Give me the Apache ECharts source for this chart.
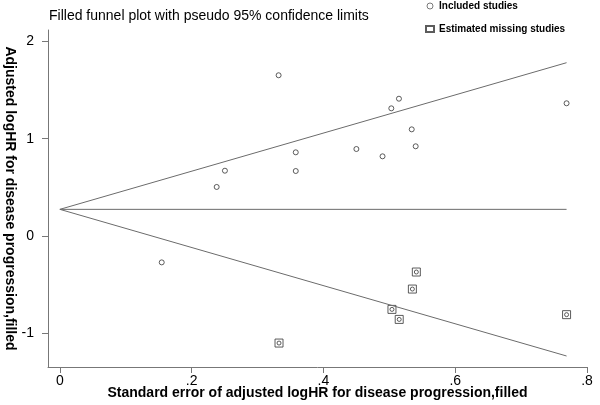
<!DOCTYPE html>
<html>
<head>
<meta charset="utf-8">
<script src="https://cdn.jsdelivr.net/npm/echarts@6/dist/echarts.min.js"></script>
<style>
  html, body { margin: 0; padding: 0; background: #fff; }
  #main { width: 600px; height: 405px; }
</style>
</head>
<body>
<div id="main"></div>
<script>
// included studies (se, logHR)
let includedSE = [0.332, 0.2505, 0.238, 0.358, 0.358, 0.5146, 0.503, 0.769, 0.534, 0.450, 0.4897, 0.540, 0.1546];
let includedHR = [1.652, 0.671, 0.504, 0.860, 0.668, 1.411, 1.312, 1.364, 1.096, 0.894, 0.819, 0.922, -0.271];
// trim-and-fill imputed studies
let missingSE = [0.3326, 0.541, 0.535, 0.504, 0.515, 0.769];
let missingHR = [-1.100, -0.370, -0.545, -0.754, -0.857, -0.808];
// pseudo 95% limits and pooled estimate
let limitSE = [0, 0.769];
let upperLimit = [0.274, 1.781];
let lowerLimit = [0.274, -1.233];
let pooledLine = [0.274, 0.274];
let xTicks = [0, 0.2, 0.4, 0.6, 0.8];
let yTicks = [-1, 0, 1, 2];

let zip = function (a, b) {
    return a.map(function (v, i) { return [v, b[i]]; });
};

let chart = echarts.init(document.getElementById('main'));
let lineStyle = { color: '#6b6b6b', width: 1 };
let axisColor = '#777';
let option = {
    animation: false,
    title: {
        text: 'Filled funnel plot with pseudo 95% confidence limits',
        left: 44,
        top: 4,
        textStyle: { fontFamily: 'Liberation Sans', fontSize: 14, fontWeight: 'normal', color: '#000' }
    },
    legend: {
        orient: 'vertical',
        left: 420,
        top: -4,
        itemGap: 13,
        itemWidth: 8,
        itemHeight: 6,
        data: [
            { name: 'Included studies', itemStyle: { borderWidth: 0.8 } },
            { name: 'Estimated missing studies' }
        ],
        textStyle: { fontFamily: 'Liberation Sans', fontSize: 10, fontWeight: 'bold', color: '#000' }
    },
    grid: { left: 48, right: 13, top: 30, bottom: 38, outerBoundsMode: 'none' },
    xAxis: {
        type: 'value',
        min: -0.018,
        max: 0.8,
        name: 'Standard error of adjusted logHR for disease progression,filled',
        nameLocation: 'middle',
        nameGap: 19,
        nameMoveOverlap: false,
        nameTextStyle: { fontFamily: 'Liberation Sans', fontSize: 14, fontWeight: 'bold', color: '#000' },
        axisLine: { show: true, onZero: false, lineStyle: { color: axisColor } },
        axisTick: { show: true, length: 6, customValues: xTicks, lineStyle: { color: axisColor } },
        axisLabel: {
            customValues: xTicks,
            margin: 7,
            fontFamily: 'Liberation Sans',
            fontSize: 14,
            color: '#000',
            formatter: function (v) { return v === 0 ? '0' : String(+v.toFixed(1)).replace('0.', '.'); }
        },
        splitLine: { show: false }
    },
    yAxis: {
        type: 'value',
        min: -1.346,
        max: 2.117,
        name: 'Adjusted logHR for disease progression,filled',
        nameLocation: 'middle',
        nameRotate: -90,
        nameGap: 31,
        nameMoveOverlap: false,
        nameTextStyle: { fontFamily: 'Liberation Sans', fontSize: 14, fontWeight: 'bold', color: '#000' },
        axisLine: { show: true, onZero: false, lineStyle: { color: axisColor } },
        axisTick: { show: true, length: 6, customValues: yTicks, lineStyle: { color: axisColor } },
        axisLabel: {
            customValues: yTicks,
            margin: 14,
            fontFamily: 'Liberation Sans',
            fontSize: 14,
            color: '#000'
        },
        splitLine: { show: false }
    },
    series: [
        { type: 'line', data: zip(limitSE, upperLimit), symbol: 'none', lineStyle: lineStyle, silent: true },
        { type: 'line', data: zip(limitSE, lowerLimit), symbol: 'none', lineStyle: lineStyle, silent: true },
        { type: 'line', data: zip(limitSE, pooledLine), symbol: 'none', lineStyle: lineStyle, silent: true },
        {
            name: 'Included studies',
            type: 'scatter',
            data: zip(includedSE, includedHR),
            symbol: 'circle',
            symbolSize: 5,
            itemStyle: { color: '#fff', borderColor: '#333', borderWidth: 1 }
        },
        {
            name: 'Estimated missing studies',
            type: 'scatter',
            data: zip(missingSE, missingHR),
            symbol: 'rect',
            symbolSize: 8,
            itemStyle: { color: '#fff', borderColor: '#333', borderWidth: 1 }
        },
        {
            name: 'filled',
            type: 'scatter',
            data: zip(missingSE, missingHR),
            symbol: 'circle',
            symbolSize: 4,
            itemStyle: { color: '#fff', borderColor: '#333', borderWidth: 1 }
        }
    ]
};
chart.setOption(option);
</script>
</body>
</html>
